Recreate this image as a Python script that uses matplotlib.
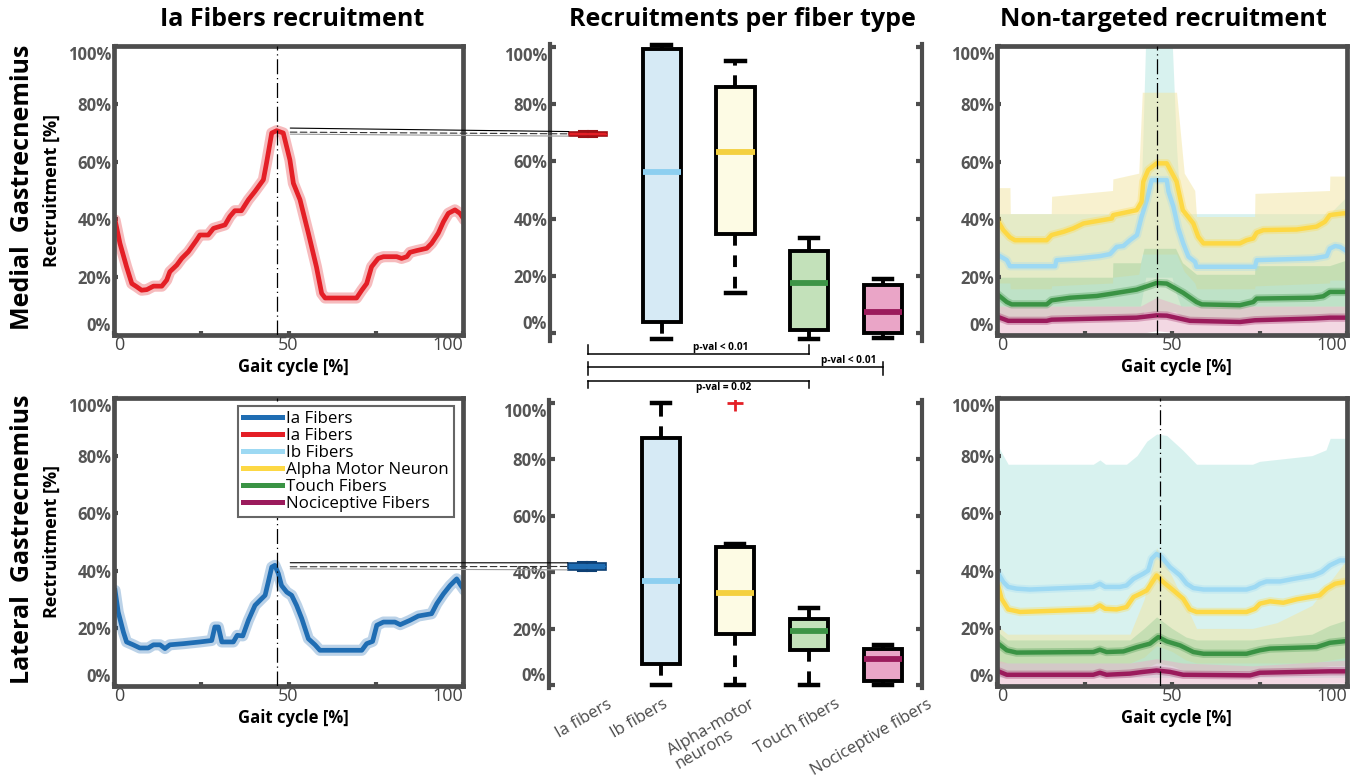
import matplotlib.pyplot as plt
from matplotlib.patches import ConnectionPatch
from matplotlib.lines import Line2D

plt.rcParams['font.family'] = ['Open Sans', 'DejaVu Sans']

W, H = 1359, 780

# ---------------- data ----------------
pct_ticks = [0, 20, 40, 60, 80, 100]
gait_ticks = [0, 25, 50, 75, 100]
gait_ticklabels = ['0', '', '50', '', '100']

fiber_labels = ['Ia Fibers', 'Ia Fibers', 'Ib Fibers', 'Alpha Motor Neuron', 'Touch Fibers', 'Nociceptive Fibers']
fiber_colors = ['#1f6db3', '#e41f26', '#9dd9f3', '#fdd844', '#3a9344', '#9b1b5c']
band_colors = ['#b3e6e1', '#f3e5a0', '#a6d3a0', '#e8b2c8']   # Ib, alpha, touch, noci

# Ia fibers recruitment over the gait cycle
mg_ia_x = [0.3, 1.7, 3.6, 5.1, 6.5, 7.9, 9.4, 11.3, 13.7, 15.1,
           16.0, 18.0, 19.4, 21.3, 23.7, 24.6, 27.0, 28.5, 31.8, 33.2,
           34.6, 36.5, 38.5, 40.4, 42.8, 43.7, 45.2, 46.6, 48.5, 50.4,
           51.4, 53.3, 55.7, 58.0, 59.5, 60.5, 69.5, 71.0, 72.4, 73.8,
           75.7, 77.2, 81.0, 82.4, 83.9, 84.8, 86.7, 89.6, 91.0, 92.9,
           94.4, 95.8, 97.7, 99.1, 100.4]
mg_ia_y = [39.8, 31.7, 23.6, 17.8, 16.7, 15.5, 15.7, 16.9, 16.9, 19.0,
           21.9, 24.2, 26.5, 28.8, 32.9, 34.6, 34.6, 36.9, 38.1, 41.0,
           43.0, 43.0, 46.8, 49.7, 53.7, 59.5, 69.9, 70.7, 69.9, 60.6,
           52.5, 46.8, 35.2, 23.6, 14.4, 12.8, 12.8, 15.5, 17.8, 23.6,
           26.5, 27.1, 27.1, 26.5, 27.1, 28.6, 29.2, 30.0, 31.7, 35.2,
           39.2, 42.1, 43.3, 42.1, 39.8]
lg_ia_x = [0.3, 1.2, 2.7, 3.6, 5.5, 7.4, 9.8, 11.3, 13.2, 14.6,
           16.0, 19.9, 24.6, 28.0, 28.9, 29.9, 30.9, 34.2, 35.3, 36.9,
           38.5, 40.4, 41.8, 43.3, 44.2, 45.2, 46.1, 47.1, 48.0, 49.5,
           50.9, 52.3, 53.8, 55.7, 57.6, 59.0, 71.0, 72.4, 74.1, 75.3,
           77.2, 80.5, 82.0, 84.8, 87.2, 91.0, 92.5, 94.4, 96.3, 98.2,
           99.4, 100.4]
lg_ia_y = [33.2, 25.7, 18.7, 15.3, 14.3, 13.2, 13.2, 14.3, 14.3, 13.0,
           14.3, 14.7, 15.3, 15.8, 20.5, 20.5, 15.3, 15.3, 17.6, 17.4,
           22.8, 28.0, 29.7, 31.5, 36.1, 41.3, 41.9, 39.0, 34.9, 32.6,
           31.5, 28.0, 23.4, 16.4, 14.3, 12.4, 12.4, 14.7, 15.5, 21.1,
           22.2, 22.2, 21.3, 22.8, 24.3, 25.1, 28.6, 32.0, 34.9, 37.2,
           34.9, 33.2]
ia_peak_gait = [46.7, 46.7]   # dash-dot marker, MG / LG
nt_peak_gait = [45.7, 46.6]

# non-targeted recruitment, medial gastrocnemius
mg_ib_x = [0.4, 2.8, 3.7, 16.6, 17.0, 23.2, 29.4, 32.3, 34.2, 36.1,
           38.0, 40.0, 41.3, 42.8, 44.2, 48.5, 49.0, 50.4, 51.8, 53.2,
           54.7, 56.6, 57.0, 73.7, 74.2, 90.4, 94.2, 95.1, 96.6, 98.0, 99.4]
mg_ib_y = [27.6, 25.9, 23.8, 23.8, 25.9, 26.5, 27.3, 28.0, 30.5, 30.8,
           32.8, 34.6, 40.9, 46.7, 53.6, 53.6, 49.6, 44.4, 36.9, 31.7,
           27.1, 25.3, 23.6, 23.6, 25.9, 26.5, 27.3, 29.9, 30.8, 30.5, 29.4]
mg_am_x = [0.4, 1.8, 3.7, 5.1, 14.2, 15.6, 19.0, 21.8, 24.7, 27.5,
           32.8, 33.2, 39.9, 41.3, 41.8, 43.2, 45.6, 48.5, 51.3, 53.1,
           56.1, 57.5, 59.0, 69.4, 71.3, 73.2, 74.2, 76.1, 85.6, 91.3,
           93.7, 95.1, 99.0, 100.0]
mg_am_y = [39.2, 36.3, 33.8, 32.8, 32.8, 34.6, 35.7, 36.9, 38.6, 39.2,
           40.3, 41.5, 43.2, 46.1, 53.1, 57.1, 59.4, 59.4, 53.1, 43.2,
           38.6, 34.0, 31.7, 31.7, 32.8, 33.4, 35.4, 36.3, 36.5, 37.5,
           39.2, 41.5, 42.1, 42.1]
mg_touch_x = [0.4, 2.8, 4.2, 14.2, 15.6, 20.9, 28.5, 32.8, 39.9, 43.7,
              45.6, 48.5, 53.2, 57.0, 58.5, 69.4, 73.2, 74.2, 90.4, 93.2,
              95.1, 100.0]
mg_touch_y = [13.8, 11.4, 10.6, 10.6, 12.0, 12.9, 13.5, 14.3, 15.7, 17.2,
              18.0, 17.8, 14.6, 11.4, 10.6, 10.3, 11.4, 12.6, 12.9, 13.4,
              14.9, 14.9]
mg_noci_x = [0.4, 3.2, 14.2, 15.6, 39.9, 45.6, 48.5, 55.1, 69.4, 73.7, 90.4, 95.1, 100.0]
mg_noci_y = [6.2, 4.9, 4.9, 5.3, 6.0, 6.8, 6.7, 4.9, 4.5, 5.1, 5.7, 6.0, 6.0]

mg_ib_bx = [0, 41.0, 41.6, 42.5, 50.0, 51.3, 52.5, 95.0, 100]
mg_ib_hi = [42, 42, 65, 103, 103, 65, 42, 42, 48]
mg_ib_lo = [10, 10, 14, 20, 20, 14, 10, 10, 10]
mg_am_bx = [0, 3.7, 3.8, 15.5, 15.6, 33.0, 33.1, 40.5, 41.5, 51.3, 53.5, 56.5, 57.0, 73.6, 73.7, 95.0, 95.1, 100]
mg_am_hi = [51, 51, 42, 42, 48, 50, 54, 56, 84, 84, 56, 50, 41, 41, 49, 50, 55, 55]
mg_am_lo = [18, 18, 16, 16, 17, 18, 20, 21, 28, 28, 22, 18, 16, 16, 17, 18, 19, 19]
mg_touch_bx = [0, 33.0, 33.1, 41.0, 42.0, 51.0, 53.0, 57.0, 73.6, 73.7, 95.0, 100]
mg_touch_hi = [20, 20, 25, 25, 30, 30, 25, 21, 21, 24, 24, 26]
mg_touch_lo = [5, 5, 6, 6, 8, 8, 6, 5, 5, 5, 6, 6]
mg_noci_bx = [0, 41.0, 45.6, 53.0, 100]
mg_noci_hi = [10, 10, 13, 10, 10]
mg_noci_lo = [0.5, 0.5, 1.5, 0.5, 0.5]

# non-targeted recruitment, lateral gastrocnemius
lg_ib_x = [0.4, 1.8, 3.2, 5.6, 9.4, 27.5, 29.4, 30.9, 35.1, 37.0,
           39.0, 41.8, 43.2, 44.2, 45.6, 47.0, 49.4, 52.3, 54.2, 56.1,
           59.0, 71.3, 73.7, 75.1, 77.0, 80.9, 84.7, 90.4, 92.8, 95.1,
           98.0, 99.4]
lg_ib_y = [39.0, 36.1, 34.4, 33.8, 33.5, 34.4, 35.5, 34.4, 34.4, 34.9,
           37.2, 39.0, 40.1, 44.2, 45.9, 44.8, 41.3, 38.4, 35.5, 34.0,
           33.5, 33.5, 34.4, 35.5, 36.3, 36.3, 37.2, 38.4, 39.6, 41.9,
           43.6, 43.6]
lg_am_x = [0.4, 1.3, 3.2, 6.6, 27.5, 29.4, 30.9, 34.2, 37.0, 39.0,
           40.9, 42.8, 45.6, 47.5, 50.4, 53.2, 55.1, 57.0, 71.3, 73.7,
           75.1, 78.0, 81.8, 85.6, 92.2, 94.2, 96.6, 99.4]
lg_am_y = [34.4, 30.3, 26.6, 25.7, 26.6, 28.0, 26.8, 26.6, 27.4, 30.9,
           32.0, 33.2, 38.4, 36.1, 33.2, 30.3, 26.6, 25.7, 25.7, 26.8,
           28.6, 29.4, 28.9, 30.1, 31.5, 33.8, 35.5, 36.1]
lg_touch_x = [0.4, 2.8, 5.6, 27.5, 29.4, 31.3, 36.1, 40.0, 43.7, 46.1,
              48.5, 52.3, 56.1, 59.0, 71.3, 75.1, 78.0, 91.3, 95.1, 99.0]
lg_touch_y = [14.7, 12.4, 11.6, 11.8, 12.6, 11.8, 12.0, 13.5, 14.7, 17.0,
              15.5, 14.1, 11.8, 11.2, 11.2, 12.4, 13.0, 13.5, 15.0, 15.5]
lg_noci_x = [0.4, 2.8, 27.5, 29.4, 31.3, 38.0, 41.8, 45.6, 49.4, 53.2, 72.3, 75.1, 95.1, 99.4]
lg_noci_y = [5.1, 3.9, 3.9, 4.6, 3.9, 4.3, 4.9, 5.4, 4.9, 3.9, 3.7, 4.6, 5.1, 5.1]

lg_ib_bx = [0, 1.8, 3.2, 27.5, 29.4, 31.0, 37.0, 40.0, 42.8, 45.6, 48.5, 53.0, 57.0, 73.0, 75.0, 90.0, 94.0, 95.2, 100]
lg_ib_hi = [84, 80, 77, 77, 78.5, 77, 77, 80, 85, 87.5, 87, 82, 77, 77, 78, 80, 82, 86, 86]
lg_ib_lo = [3, 3, 3, 3, 3, 3, 3, 3, 3, 3, 3, 3, 3, 3, 3, 3, 3, 3, 3]
lg_am_bx = [0, 3.0, 38.0, 42.0, 45.6, 50.0, 54.0, 57.0, 73.0, 80.0, 90.0, 95.0, 100]
lg_am_hi = [21, 18, 18, 30, 48, 38, 28, 20, 20, 22, 28, 36, 44]
lg_am_lo = [8, 8, 8, 10, 14, 12, 9, 8, 8, 8, 8, 9, 10]
lg_touch_bx = [0, 3.0, 38.0, 42.0, 45.6, 50.0, 54.0, 57.0, 73.0, 90.0, 95.0, 100]
lg_touch_hi = [19, 16, 16, 20, 24, 20, 17, 16, 16, 18, 21, 23]
lg_touch_lo = [6, 5, 5, 6, 8, 7, 5, 5, 5, 6, 7, 7]
lg_noci_bx = [0, 3.0, 38.0, 45.6, 53.0, 73.0, 100]
lg_noci_hi = [9, 8, 8, 9.5, 8, 7, 9]
lg_noci_lo = [1, 0.5, 0.5, 1, 0.5, 0.5, 1]

# recruitment per fiber type (box plots)
box_names = ['Ia fibers', 'Ib fibers', 'Alpha-motor\nneurons', 'Touch fibers', 'Nociceptive fibers']
box_fill = [None, '#d6eaf5', '#fdfbe4', '#c3e1ba', '#eaa5c7']
box_median_colors = [None, '#8dcff0', '#f4d03f', '#3d9446', '#9b1b5c']
mg_whislo = [68.6, -2.0, 14.0, -2.0, -1.7]
mg_q1 = [68.8, 3.8, 34.6, 1.0, 0.0]
mg_med = [69.6, 56.4, 63.3, 17.5, 7.3]
mg_q3 = [70.4, 99.3, 86.0, 28.7, 16.8]
mg_whishi = [70.6, 100.7, 95.1, 33.2, 18.9]
lg_whislo = [40.4, 0.0, 0.0, 0.0, 0.0]
lg_q1 = [40.8, 7.4, 18.1, 12.4, 1.4]
lg_med = [42.0, 36.9, 32.6, 19.1, 9.2]
lg_q3 = [43.3, 87.6, 48.9, 23.4, 12.8]
lg_whishi = [43.5, 100.0, 50.0, 27.3, 14.2]
lg_fliers = [[], [], [100.0], [], []]

pval_pairs = [(1, 4), (1, 5), (1, 4)]
pval_text = ['p-val < 0.01', 'p-val < 0.01', 'p-val = 0.02']

# ---------------- figure ----------------
fig = plt.figure(figsize=(W / 100, H / 100), dpi=100)
FRAME = '#4d4d4d'


def px_axes(l, t, r, b):
    return fig.add_axes([l / W, 1 - b / H, (r - l) / W, (b - t) / H])


def pct_labels(ax, fs=12):
    ax.set_yticks(pct_ticks)
    ax.set_yticklabels([f'{v}%' for v in pct_ticks], fontsize=fs, fontweight='bold', color='#555555')
    labs = ax.get_yticklabels()
    labs[0].set_va('bottom')
    labs[-1].set_va('top')


def gait_frame(ax):
    for s in ax.spines.values():
        s.set_linewidth(3.4)
        s.set_color(FRAME)
    ax.set_xlim(0, 100)
    ax.set_ylim(0, 100)
    ax.set_xticks(gait_ticks)
    ax.set_xticklabels(gait_ticklabels, fontsize=13, color='#444444')
    labs = ax.get_xticklabels()
    labs[0].set_ha('left')
    labs[-1].set_ha('right')
    pct_labels(ax)
    ax.tick_params(direction='in', length=3, width=3, color=FRAME)
    ax.tick_params(axis='y', pad=2)
    ax.tick_params(axis='x', pad=0.5)
    ax.text(0.513, -0.112, 'Gait cycle [%]', transform=ax.transAxes, ha='center', va='center',
            fontsize=12, fontweight='bold')


def ia_panel(ax, x, y, color, peak):
    ax.plot(x, y, color=color, lw=8, alpha=0.3, solid_capstyle='round')
    ax.plot(x, y, color=color, lw=3.4)
    ax.axvline(peak, color='k', lw=0.9, ls=(0, (12, 3, 1, 3)), zorder=5)
    gait_frame(ax)
    ax.text(-0.178, 0.5, 'Rectruitment [%]', transform=ax.transAxes, rotation=90,
            ha='center', va='center', fontsize=13, fontweight='bold')


def nt_panel(ax, lines, bands, peak):
    for (bx, lo, hi), c in zip(bands, band_colors):
        ax.fill_between(bx, lo, hi, color=c, alpha=0.5, lw=0)
    for (x, y), c in zip(lines, fiber_colors[2:]):
        ax.plot(x, y, color=c, lw=6, alpha=0.3)
        ax.plot(x, y, color=c, lw=3.2)
    ax.axvline(peak, color='k', lw=0.9, ls=(0, (12, 3, 1, 3)), zorder=5)
    gait_frame(ax)


def box_panel(ax, whislo, q1, med, q3, whishi, fliers, ia_color, ia_edge):
    stats = []
    for i in range(len(box_names)):
        stats.append(dict(med=med[i], q1=q1[i], q3=q3[i], whislo=whislo[i], whishi=whishi[i],
                          fliers=fliers[i]))
    pos = list(range(1, len(box_names) + 1))
    bp = ax.bxp(stats, positions=pos, widths=0.52, capwidths=0.25, patch_artist=True,
                boxprops=dict(lw=2.8, edgecolor='k'),
                whiskerprops=dict(lw=2.8, ls=(0, (3, 2.5)), color='k'),
                capprops=dict(lw=3.2, color='k'),
                medianprops=dict(lw=4.2),
                flierprops=dict(marker='+', mec='#e41f26', ms=11, mew=2))
    for i, (b, m) in enumerate(zip(bp['boxes'], bp['medians'])):
        if i == 0:
            b.set_facecolor(ia_color)
            b.set_edgecolor(ia_edge)
            b.set_linewidth(1.2)
            m.set_color(ia_color)
            m.set_linewidth(1)
        else:
            b.set_facecolor(box_fill[i])
            m.set_color(box_median_colors[i])
    # the Ia box is tiny: keep its whiskers and caps thin and dark
    for art in bp['caps'][:2] + bp['whiskers'][:2]:
        art.set_color(ia_edge)
        art.set_linewidth(1.5)
        art.set_linestyle('-')
    for art in bp['boxes'] + bp['medians'] + bp['whiskers'] + bp['caps']:
        art.set_clip_on(False)
    ax.set_xlim(0.485, 5.53)
    ax.spines['top'].set_visible(False)
    ax.spines['bottom'].set_visible(False)
    for s in ('left', 'right'):
        ax.spines[s].set_linewidth(3)
        ax.spines[s].set_color(FRAME)
    ax.set_xticks([])
    pct_labels(ax)
    ax.tick_params(axis='y', direction='in', length=4, width=3, color=FRAME, left=True, right=True, pad=2)
    ax.set_facecolor('none')


# titles
fig.text(292 / W, 1 - 20 / H, 'Ia Fibers recruitment', ha='center', va='center', fontsize=18, fontweight='bold')
fig.text(742 / W, 1 - 20 / H, 'Recruitments per fiber type', ha='center', va='center', fontsize=18, fontweight='bold')
fig.text(1163 / W, 1 - 20 / H, 'Non-targeted recruitment', ha='center', va='center', fontsize=18, fontweight='bold')

ax_mg_ia = px_axes(114, 46, 463, 335)
ax_lg_ia = px_axes(114, 398, 463, 686)
ax_mg_box = px_axes(550, 44, 922, 341)
ax_lg_box = px_axes(549, 400, 922, 688)
ax_mg_nt = px_axes(997, 46, 1347, 335)
ax_lg_nt = px_axes(997, 398, 1347, 686)

ia_panel(ax_mg_ia, mg_ia_x, mg_ia_y, fiber_colors[1], ia_peak_gait[0])
ia_panel(ax_lg_ia, lg_ia_x, lg_ia_y, fiber_colors[0], ia_peak_gait[1])
ax_mg_ia.text(-0.262, 0.51, 'Medial  Gastrecnemius', transform=ax_mg_ia.transAxes, rotation=90,
              ha='center', va='center', fontsize=18, fontweight='bold')
ax_lg_ia.text(-0.262, 0.51, 'Lateral  Gastrecnemius', transform=ax_lg_ia.transAxes, rotation=90,
              ha='center', va='center', fontsize=18, fontweight='bold')

handles = [Line2D([], [], color=c, lw=3.6) for c in fiber_colors]
leg = ax_lg_ia.legend(handles, fiber_labels, loc='upper right', bbox_to_anchor=(0.974, 0.972),
                      borderaxespad=0, labelspacing=0.06, handlelength=2.3,
                      handletextpad=0.25, borderpad=0.3, fancybox=False, framealpha=1,
                      prop=dict(size=12.2))
leg.get_frame().set_edgecolor('#666666')
leg.get_frame().set_linewidth(1.5)

nt_panel(ax_mg_nt,
         [(mg_ib_x, mg_ib_y), (mg_am_x, mg_am_y), (mg_touch_x, mg_touch_y), (mg_noci_x, mg_noci_y)],
         [(mg_ib_bx, mg_ib_lo, mg_ib_hi), (mg_am_bx, mg_am_lo, mg_am_hi),
          (mg_touch_bx, mg_touch_lo, mg_touch_hi), (mg_noci_bx, mg_noci_lo, mg_noci_hi)],
         nt_peak_gait[0])
nt_panel(ax_lg_nt,
         [(lg_ib_x, lg_ib_y), (lg_am_x, lg_am_y), (lg_touch_x, lg_touch_y), (lg_noci_x, lg_noci_y)],
         [(lg_ib_bx, lg_ib_lo, lg_ib_hi), (lg_am_bx, lg_am_lo, lg_am_hi),
          (lg_touch_bx, lg_touch_lo, lg_touch_hi), (lg_noci_bx, lg_noci_lo, lg_noci_hi)],
         nt_peak_gait[1])

box_panel(ax_mg_box, mg_whislo, mg_q1, mg_med, mg_q3, mg_whishi, [[]] * 5, fiber_colors[1], '#9e1116')
ax_mg_box.set_ylim(-2.8, 101)
box_panel(ax_lg_box, lg_whislo, lg_q1, lg_med, lg_q3, lg_whishi, lg_fliers, fiber_colors[0], '#0d3f73')
ax_lg_box.set_ylim(-1.06, 101)

# category labels under the lower box plot
label_dx = [0.26, 0.02, 0.2, 0.35, 0.6]
for i, name in enumerate(box_names):
    ax_lg_box.text(i + 1 + label_dx[i], -4.0, name, rotation=30, rotation_mode='anchor',
                   ha='right', va='top', multialignment='left', fontsize=12, color='#4a4a4a',
                   linespacing=0.95)

# significance brackets between the box plots
levels = [-7.3, -11.9, -16.8]
tick_spans = [(-4.2, -7.3), (-10.1, -14.6), (-16.8, -19.2)]
text_xy = [(2.8, -6.9, 'bottom'), (4.53, -11.5, 'bottom'), (2.84, -17.1, 'top')]
for (a, b), lev, (t0, t1), (tx, ty, va), txt in zip(pval_pairs, levels, tick_spans, text_xy, pval_text):
    ax_mg_box.plot([a, b], [lev, lev], color='k', lw=1.1, clip_on=False)
    ax_mg_box.plot([a, a], [t0, t1], color='k', lw=1.1, clip_on=False)
    ax_mg_box.plot([b, b], [t0, t1], color='k', lw=1.1, clip_on=False)
    ax_mg_box.text(tx, ty, txt, ha='center', va=va, fontsize=7.2, fontweight='bold')

# zoom lines from the Ia peak to the Ia box
for ax_l, ax_b, y, q1, med, q3 in [(ax_mg_ia, ax_mg_box, mg_ia_y, mg_q1, mg_med, mg_q3),
                                    (ax_lg_ia, ax_lg_box, lg_ia_y, lg_q1, lg_med, lg_q3)]:
    peak = max(y)
    for dy, target, style, col in [(0.9, q3[0], '-', 'k'), (-0.5, med[0], (0, (6, 3)), '#333333'),
                                   (-1.2, q1[0], '-', '#999999')]:
        con = ConnectionPatch(xyA=(50.5, peak + dy), coordsA='data', axesA=ax_l,
                              xyB=(0.74, target), coordsB='data', axesB=ax_b,
                              color=col, lw=0.8, ls=style, zorder=1)
        fig.add_artist(con)

fig.savefig('out.png', dpi=100)
